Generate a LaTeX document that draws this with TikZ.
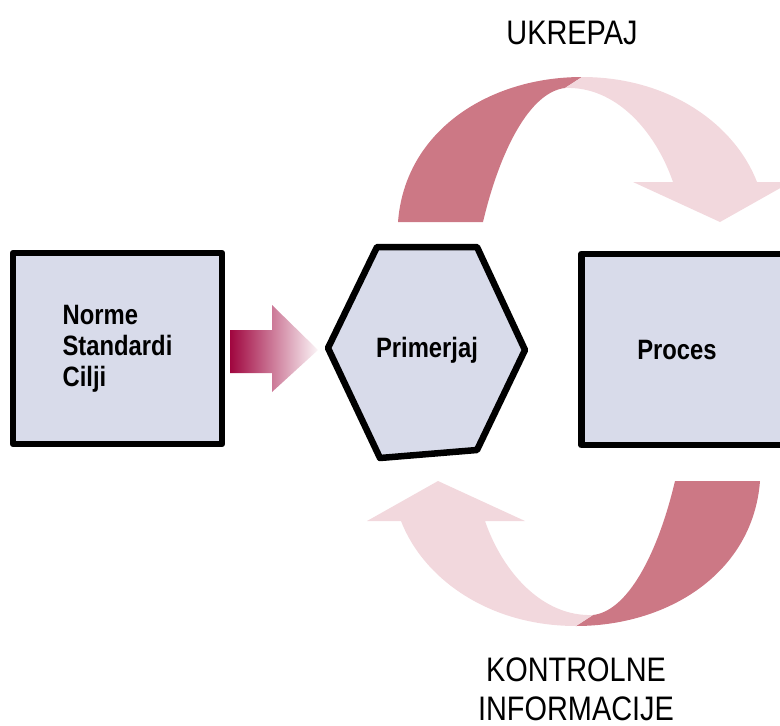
\documentclass[tikz,border=0pt]{standalone}
\usepackage{fontspec}
\setmainfont{Liberation Sans}
\newfontfamily\narrowsans[FakeStretch=0.85]{Liberation Sans}
\definecolor{boxfill}{HTML}{D8DBEA}
\definecolor{banddark}{HTML}{CC7885}
\definecolor{bandlight}{HTML}{F2D8DD}
\definecolor{crimson}{HTML}{A0063F}

% curved feedback arrow: dark tail, pale body and head
\newcommand\looparrow{%
  \fill[banddark] (398,222) .. controls (405,130) and (490,77) .. (582,77)
    -- (565,88) .. controls (530,92) and (500,150) .. (483,222) -- cycle;
  \fill[bandlight] (582,77) .. controls (670,77) and (735,125) .. (757,182)
    -- (791,182) -- (720,222) -- (633,182) -- (673,182)
    .. controls (655,130) and (615,86) .. (565,88) -- cycle;
}

\tikzset{
  panel/.style={draw=black, line width=6.5pt, fill=boxfill, line join=round},
  lbl/.style={font=\narrowsans\bfseries\fontsize{28}{31}\selectfont, align=left, inner sep=0pt},
  caption/.style={font=\narrowsans\fontsize{34}{39}\selectfont, align=center, inner sep=0pt}
}

\begin{document}
\begin{tikzpicture}[x=1pt, y=-1pt]
\useasboundingbox (0,0) rectangle (780,726);
\clip (0,0) rectangle (780,726);

% feedback loop arrows
\looparrow
\begin{scope}[rotate around={180:(579,351.5)}]
  \looparrow
\end{scope}

% input box
\node[panel, minimum width=209pt, minimum height=191pt, lbl] (norme)
  at (117.5,348.5) {Norme\\Standardi\\Cilji};

% shaded input arrow
\shade[left color=crimson, right color=crimson!4]
  (230,330) -- (272,330) -- (272,305) -- (318,350) -- (272,392)
  -- (272,373) -- (230,373) -- cycle;

% comparator hexagon
\draw[panel] (328,348) -- (377,247) -- (477,247) -- (525,350)
  -- (477,450) -- (380,458) -- cycle;
\node[lbl] (primerjaj) at (427,350) {Primerjaj};

% process box, running past the right edge
\node[panel, minimum width=320pt, minimum height=191pt, anchor=west] (procesbox)
  at (578,349.5) {};
\node[lbl] (proces) at (677,350) {Proces};

% loop captions
\node[caption] (ukrepaj) at (572,33) {UKREPAJ};
\node[caption] (kontrolne) at (576,689) {KONTROLNE\\INFORMACIJE};
\end{tikzpicture}
\end{document}
